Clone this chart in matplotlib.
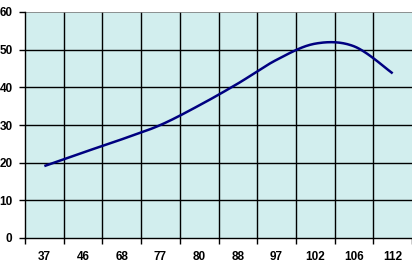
import numpy as np
import matplotlib
matplotlib.use("Agg")
import matplotlib.pyplot as plt

plt.rcParams["font.family"] = ["Liberation Sans", "DejaVu Sans"]

categories = ["37", "46", "68", "77", "80", "88", "97", "102", "106", "112"]
values = [19.1, 22.7, 26.2, 30.0, 35.2, 41.0, 47.3, 51.6, 50.9, 43.7]
yticks = [0, 10, 20, 30, 40, 50, 60]

W, H, DPI = 412, 263, 100
fig = plt.figure(figsize=(W / DPI, H / DPI), dpi=DPI)
fig.patch.set_facecolor("white")

L, R, T, B = 25, 412, 12, 238
ax = fig.add_axes([L / W, (H - B) / H, (R - L) / W, (B - T) / H])
ax.set_facecolor("#d2eeee")


def catmull_rom(xs, ys, n=30):
    xs = np.asarray(xs, float)
    ys = np.asarray(ys, float)
    P = np.column_stack([xs, ys])
    P = np.vstack([P[0], P, P[-1]])
    out = []
    for i in range(1, len(P) - 2):
        p0, p1, p2, p3 = P[i - 1], P[i], P[i + 1], P[i + 2]
        b1 = p1 + (p2 - p0) / 6
        b2 = p2 - (p3 - p1) / 6
        t = np.linspace(0, 1, n)[:, None]
        seg = ((1 - t) ** 3) * p1 + 3 * ((1 - t) ** 2) * t * b1 + 3 * (1 - t) * t ** 2 * b2 + t ** 3 * p2
        out.append(seg if i == 1 else seg[1:])
    return np.vstack(out)


xpos = np.arange(len(categories))
curve = catmull_rom(xpos, values)
ax.plot(curve[:, 0], curve[:, 1], color="#000080", lw=1.8, solid_capstyle="butt", zorder=3)

ax.set_xlim(-0.5, len(categories) - 0.5)
ax.set_ylim(0, 60)

# gridlines
for b in np.arange(0.5, len(categories) - 0.5, 1):
    ax.axvline(b, color="black", lw=1.0, zorder=2)
for v in yticks[1:-1]:
    ax.axhline(v, color="black", lw=1.0, zorder=2)
ax.axhline(60, color="#808080", lw=1.2, zorder=2)

for s in ["top", "right"]:
    ax.spines[s].set_visible(False)
for s in ["left", "bottom"]:
    ax.spines[s].set_color("black")
    ax.spines[s].set_linewidth(1.0)

ax.set_yticks(yticks)
ax.set_yticklabels([str(v) for v in yticks], fontsize=8.5, fontweight="bold")
ax.tick_params(axis="y", length=4, width=1, pad=5, direction="out")

ax.set_xticks(xpos)
ax.set_xticklabels(categories, fontsize=8.5, fontweight="bold")
ax.tick_params(axis="x", which="major", length=0, pad=9)
ax.set_xticks(np.arange(-0.5, len(categories) - 0.4, 1), minor=True)
ax.tick_params(axis="x", which="minor", length=4, width=1, direction="out")

fig.savefig("out.png", dpi=DPI)
